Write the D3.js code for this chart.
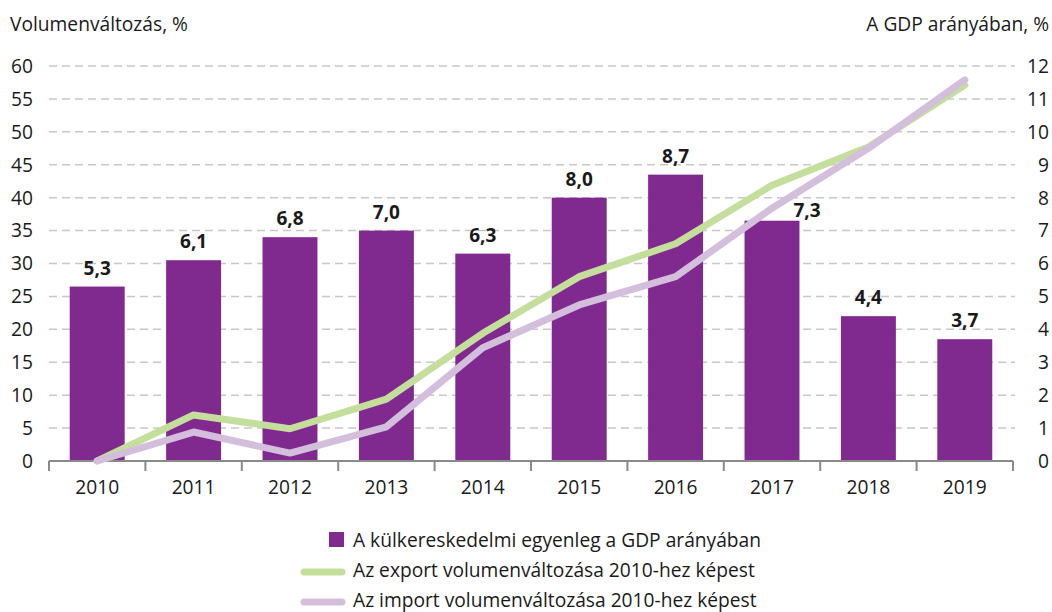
<!DOCTYPE html>
<html>
<head>
<meta charset="utf-8">
<script src="https://cdn.jsdelivr.net/npm/d3@7"></script>
<style>
  body { margin: 0; background: #fff; }
  svg { display: block; }
  text { font-family: "Open Sans", "Noto Sans", sans-serif; fill: #1a1a1a; }
</style>
</head>
<body>
<svg id="chart" width="1052" height="612"></svg>
<script>
const years = ["2010","2011","2012","2013","2014","2015","2016","2017","2018","2019"];
const balanceGDP = [5.3, 6.1, 6.8, 7.0, 6.3, 8.0, 8.7, 7.3, 4.4, 3.7];
const balanceLabels = ["5,3","6,1","6,8","7,0","6,3","8,0","8,7","7,3","4,4","3,7"];
const exportVol = [0, 7.0, 4.9, 9.4, 19.4, 28.0, 33.0, 41.9, 47.7, 57.1];
const importVol = [0, 4.4, 1.2, 5.2, 17.2, 23.7, 28.0, 38.4, 47.5, 57.9];
const leftTicks = d3.range(0, 61, 5);
const rightTicks = d3.range(0, 13, 1);
const legendLabels = [
  "A külkereskedelmi egyenleg a GDP arányában",
  "Az export volumenváltozása 2010-hez képest",
  "Az import volumenváltozása 2010-hez képest"
];
const colors = { bar: "#80298f", exp: "#c4df9c", imp: "#d3bedc", grid: "#c8c8c8", axis: "#8a8a8a" };
const fs = 19.2;

const svg = d3.select("#chart");
const mLeft = 49, mRight = 1013, mTop = 66, mBottom = 461;

const x = d3.scaleBand().domain(years).range([mLeft, mRight]).paddingInner(0.43).paddingOuter(0.215);
const xb = d3.scaleBand().domain(years).range([mLeft, mRight]);
const yL = d3.scaleLinear().domain([0, 60]).range([mBottom, mTop]);
const yR = d3.scaleLinear().domain([0, 12]).range([mBottom, mTop]);

// gridlines
svg.append("g").selectAll("line").data(leftTicks.filter(d => d > 0)).join("line")
  .attr("x1", mLeft).attr("x2", 1015)
  .attr("y1", d => yL(d)).attr("y2", d => yL(d))
  .attr("stroke", colors.grid).attr("stroke-width", 1.5).attr("stroke-dasharray", "8,5");

// left axis labels
svg.append("g").selectAll("text").data(leftTicks).join("text")
  .attr("x", 33).attr("y", d => yL(d)).attr("dy", "0.36em")
  .attr("text-anchor", "end").attr("font-size", fs).text(d => d);

// right axis labels
svg.append("g").selectAll("text").data(rightTicks).join("text")
  .attr("x", 1049).attr("y", d => yR(d)).attr("dy", "0.36em")
  .attr("text-anchor", "end").attr("font-size", fs).text(d => d);

// titles
svg.append("text").attr("x", 10).attr("y", 31).attr("font-size", fs).text("Volumenváltozás, %");
svg.append("text").attr("x", 1049).attr("y", 31).attr("text-anchor", "end").attr("font-size", fs).text("A GDP arányában, %");

// bars
svg.append("g").selectAll("rect").data(years).join("rect")
  .attr("x", d => x(d)).attr("width", x.bandwidth())
  .attr("y", (d, i) => yR(balanceGDP[i])).attr("height", (d, i) => mBottom - yR(balanceGDP[i]))
  .attr("fill", colors.bar);

// x axis
const xAxis = d3.axisBottom(xb).tickSize(0).tickPadding(0).tickFormat(() => "");
const gx = svg.append("g").attr("transform", `translate(0,${mBottom})`).call(xAxis);
gx.select(".domain").remove();
gx.append("line").attr("x1", mLeft).attr("x2", mRight).attr("stroke", colors.axis).attr("stroke-width", 2);
const boundaries = years.map(d => xb(d)).concat([mRight]);
gx.selectAll("line.bt").data(boundaries).join("line").attr("class", "bt")
  .attr("x1", d => d).attr("x2", d => d).attr("y1", 0).attr("y2", 10)
  .attr("stroke", colors.axis).attr("stroke-width", 2);
svg.append("g").selectAll("text").data(years).join("text")
  .attr("x", d => xb(d) + xb.bandwidth() / 2).attr("y", 494)
  .attr("text-anchor", "middle").attr("font-size", fs).text(d => d);

// lines
const line = d3.line().x((d, i) => xb(years[i]) + xb.bandwidth() / 2).y(d => yL(d));
svg.append("path").datum(exportVol).attr("d", line).attr("fill", "none")
  .attr("stroke", colors.exp).attr("stroke-width", 7).attr("stroke-linecap", "round").attr("stroke-linejoin", "round");
svg.append("path").datum(importVol).attr("d", line).attr("fill", "none")
  .attr("stroke", colors.imp).attr("stroke-width", 7).attr("stroke-linecap", "round").attr("stroke-linejoin", "round");

// value labels
svg.append("g").selectAll("text").data(years).join("text")
  .attr("x", (d, i) => x(d) + x.bandwidth() / 2 + (i === 7 ? 35 : 0))
  .attr("y", (d, i) => yR(balanceGDP[i]) - (i === 7 ? 4 : 12))
  .attr("text-anchor", "middle").attr("font-size", 19).attr("font-weight", "bold")
  .text((d, i) => balanceLabels[i]);

// legend
const lg = svg.append("g");
lg.append("rect").attr("x", 329).attr("y", 532).attr("width", 15).attr("height", 15).attr("fill", colors.bar);
lg.append("line").attr("x1", 304).attr("x2", 342).attr("y1", 572).attr("y2", 572)
  .attr("stroke", colors.exp).attr("stroke-width", 7).attr("stroke-linecap", "round");
lg.append("line").attr("x1", 304).attr("x2", 342).attr("y1", 602).attr("y2", 602)
  .attr("stroke", colors.imp).attr("stroke-width", 7).attr("stroke-linecap", "round");
lg.selectAll("text").data(legendLabels).join("text")
  .attr("x", 353).attr("y", (d, i) => 547 + i * 30)
  .attr("font-size", fs).text(d => d);
</script>
</body>
</html>
